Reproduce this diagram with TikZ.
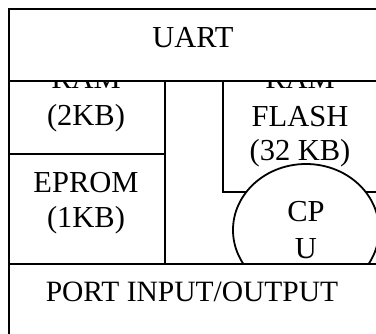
\documentclass[tikz,border=0pt]{standalone}
\usepackage{fontspec}
\setmainfont{Liberation Serif}
\usetikzlibrary{shapes.geometric}
\begin{document}
\begin{tikzpicture}[x=1pt,y=-1pt,
  box/.style={draw=black, line width=1.8pt, rectangle, inner sep=0pt, anchor=north west},
  lbl/.style={anchor=base, inner sep=0pt, font=\fontsize{30.5}{36}\selectfont},
  chip/.style={draw=black, line width=1.8pt, ellipse, fill=white, inner sep=0pt}]
\useasboundingbox (0,0) rectangle (376,334);
\fill[white] (0,0) rectangle (376,334);

% memory labels (their tops are covered by the UART block)
\node[lbl] (ram1) at (86,89) {RAM};
\node[lbl] (ram1size) at (86,126) {(2KB)};
\node[lbl] (ram2) at (300,89) {RAM};
\node[lbl] (flash) at (300,127) {FLASH};
\node[lbl] (flashsize) at (300,161) {(32 KB)};
\node[lbl] (eprom) at (86,193) {EPROM};
\node[lbl] (epromsize) at (86,228) {(1KB)};

% memory blocks
\node[box, minimum width=156, minimum height=73] (ramblk) at (8,80) {};
\node[box, minimum width=156, minimum height=110] (epromblk) at (8,153) {};
\node[box, minimum width=160, minimum height=111] (flashblk) at (222,80) {};

% UART block on top
\node[box, fill=white, minimum width=374, minimum height=72] (uartblk) at (8,8) {};
\node[lbl] (uart) at (193,48) {UART};

% CPU
\node[chip, minimum width=146, minimum height=132] (cpu) at (306,230) {};
\node[lbl] (cp) at (306,222) {CP};
\node[lbl] (cpuu) at (306,259) {U};

% I/O port block
\node[box, fill=white, minimum width=374, minimum height=80] (portblk) at (8,263) {};
\node[lbl, font=\fontsize{29.5}{36}\selectfont] (port) at (192,302) {PORT INPUT/OUTPUT};
\end{tikzpicture}
\end{document}
